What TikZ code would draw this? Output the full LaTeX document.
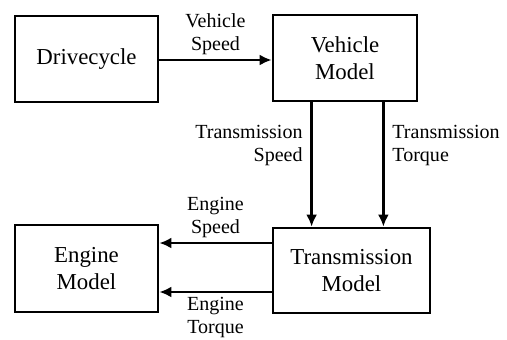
\documentclass[tikz,border=0pt]{standalone}
\usepackage{fontspec}
\setmainfont{Liberation Serif}
\usetikzlibrary{arrows.meta,positioning}

\begin{document}
\begin{tikzpicture}[
  x=0.02cm,y=-0.02cm,
  >={Latex[length=2.4mm,width=2.2mm]},
  block/.style={draw,line width=1.6pt,minimum height=1.72cm,align=center,
    font=\fontsize{13}{15.3}\selectfont},
  flow/.style={->,line width=1.6pt},
  lbl/.style={font=\fontsize{11.4}{13}\selectfont,inner sep=1.5pt}
]
  \useasboundingbox (0,0) rectangle (507,339);
  \node[block,minimum width=2.86cm] (drive) at (86.5,59) {Drivecycle};
  \node[block,minimum width=2.88cm] (vehicle) at (345,58) {Vehicle\\Model};
  \node[block,minimum width=2.86cm,minimum height=1.74cm] (engine) at (86.5,268.5) {Engine\\Model};
  \node[block,minimum width=3.14cm,minimum height=1.7cm] (trans) at (351.5,270.5) {Transmission\\Model};
  % top row
  \draw[flow] ([yshift=-0.02cm]drive.east) -- node[lbl,above=0.2mm,align=center]{Vehicle\\Speed}
    ([yshift=-0.02cm]drive.east -| vehicle.west);
  % down into the transmission
  \draw[flow] ([xshift=0.8cm]vehicle.south west) -- node[lbl,left=1mm,pos=0.35,align=right]{Transmission\\Speed}
    ([xshift=0.8cm]vehicle.south west |- trans.north);
  \draw[flow] ([xshift=-0.7cm]vehicle.south east) -- node[lbl,right=1mm,pos=0.35,align=left]{Transmission\\Torque}
    ([xshift=-0.7cm]vehicle.south east |- trans.north);
  % back to the engine
  \draw[flow] ([yshift=0.55cm]trans.west) -- node[lbl,above=0.2mm,align=center]{Engine\\Speed}
    ([yshift=0.55cm]trans.west -| engine.east);
  \draw[flow] ([yshift=-0.43cm]trans.west) -- node[lbl,below=0.2mm,align=center]{Engine\\Torque}
    ([yshift=-0.43cm]trans.west -| engine.east);
\end{tikzpicture}
\end{document}
